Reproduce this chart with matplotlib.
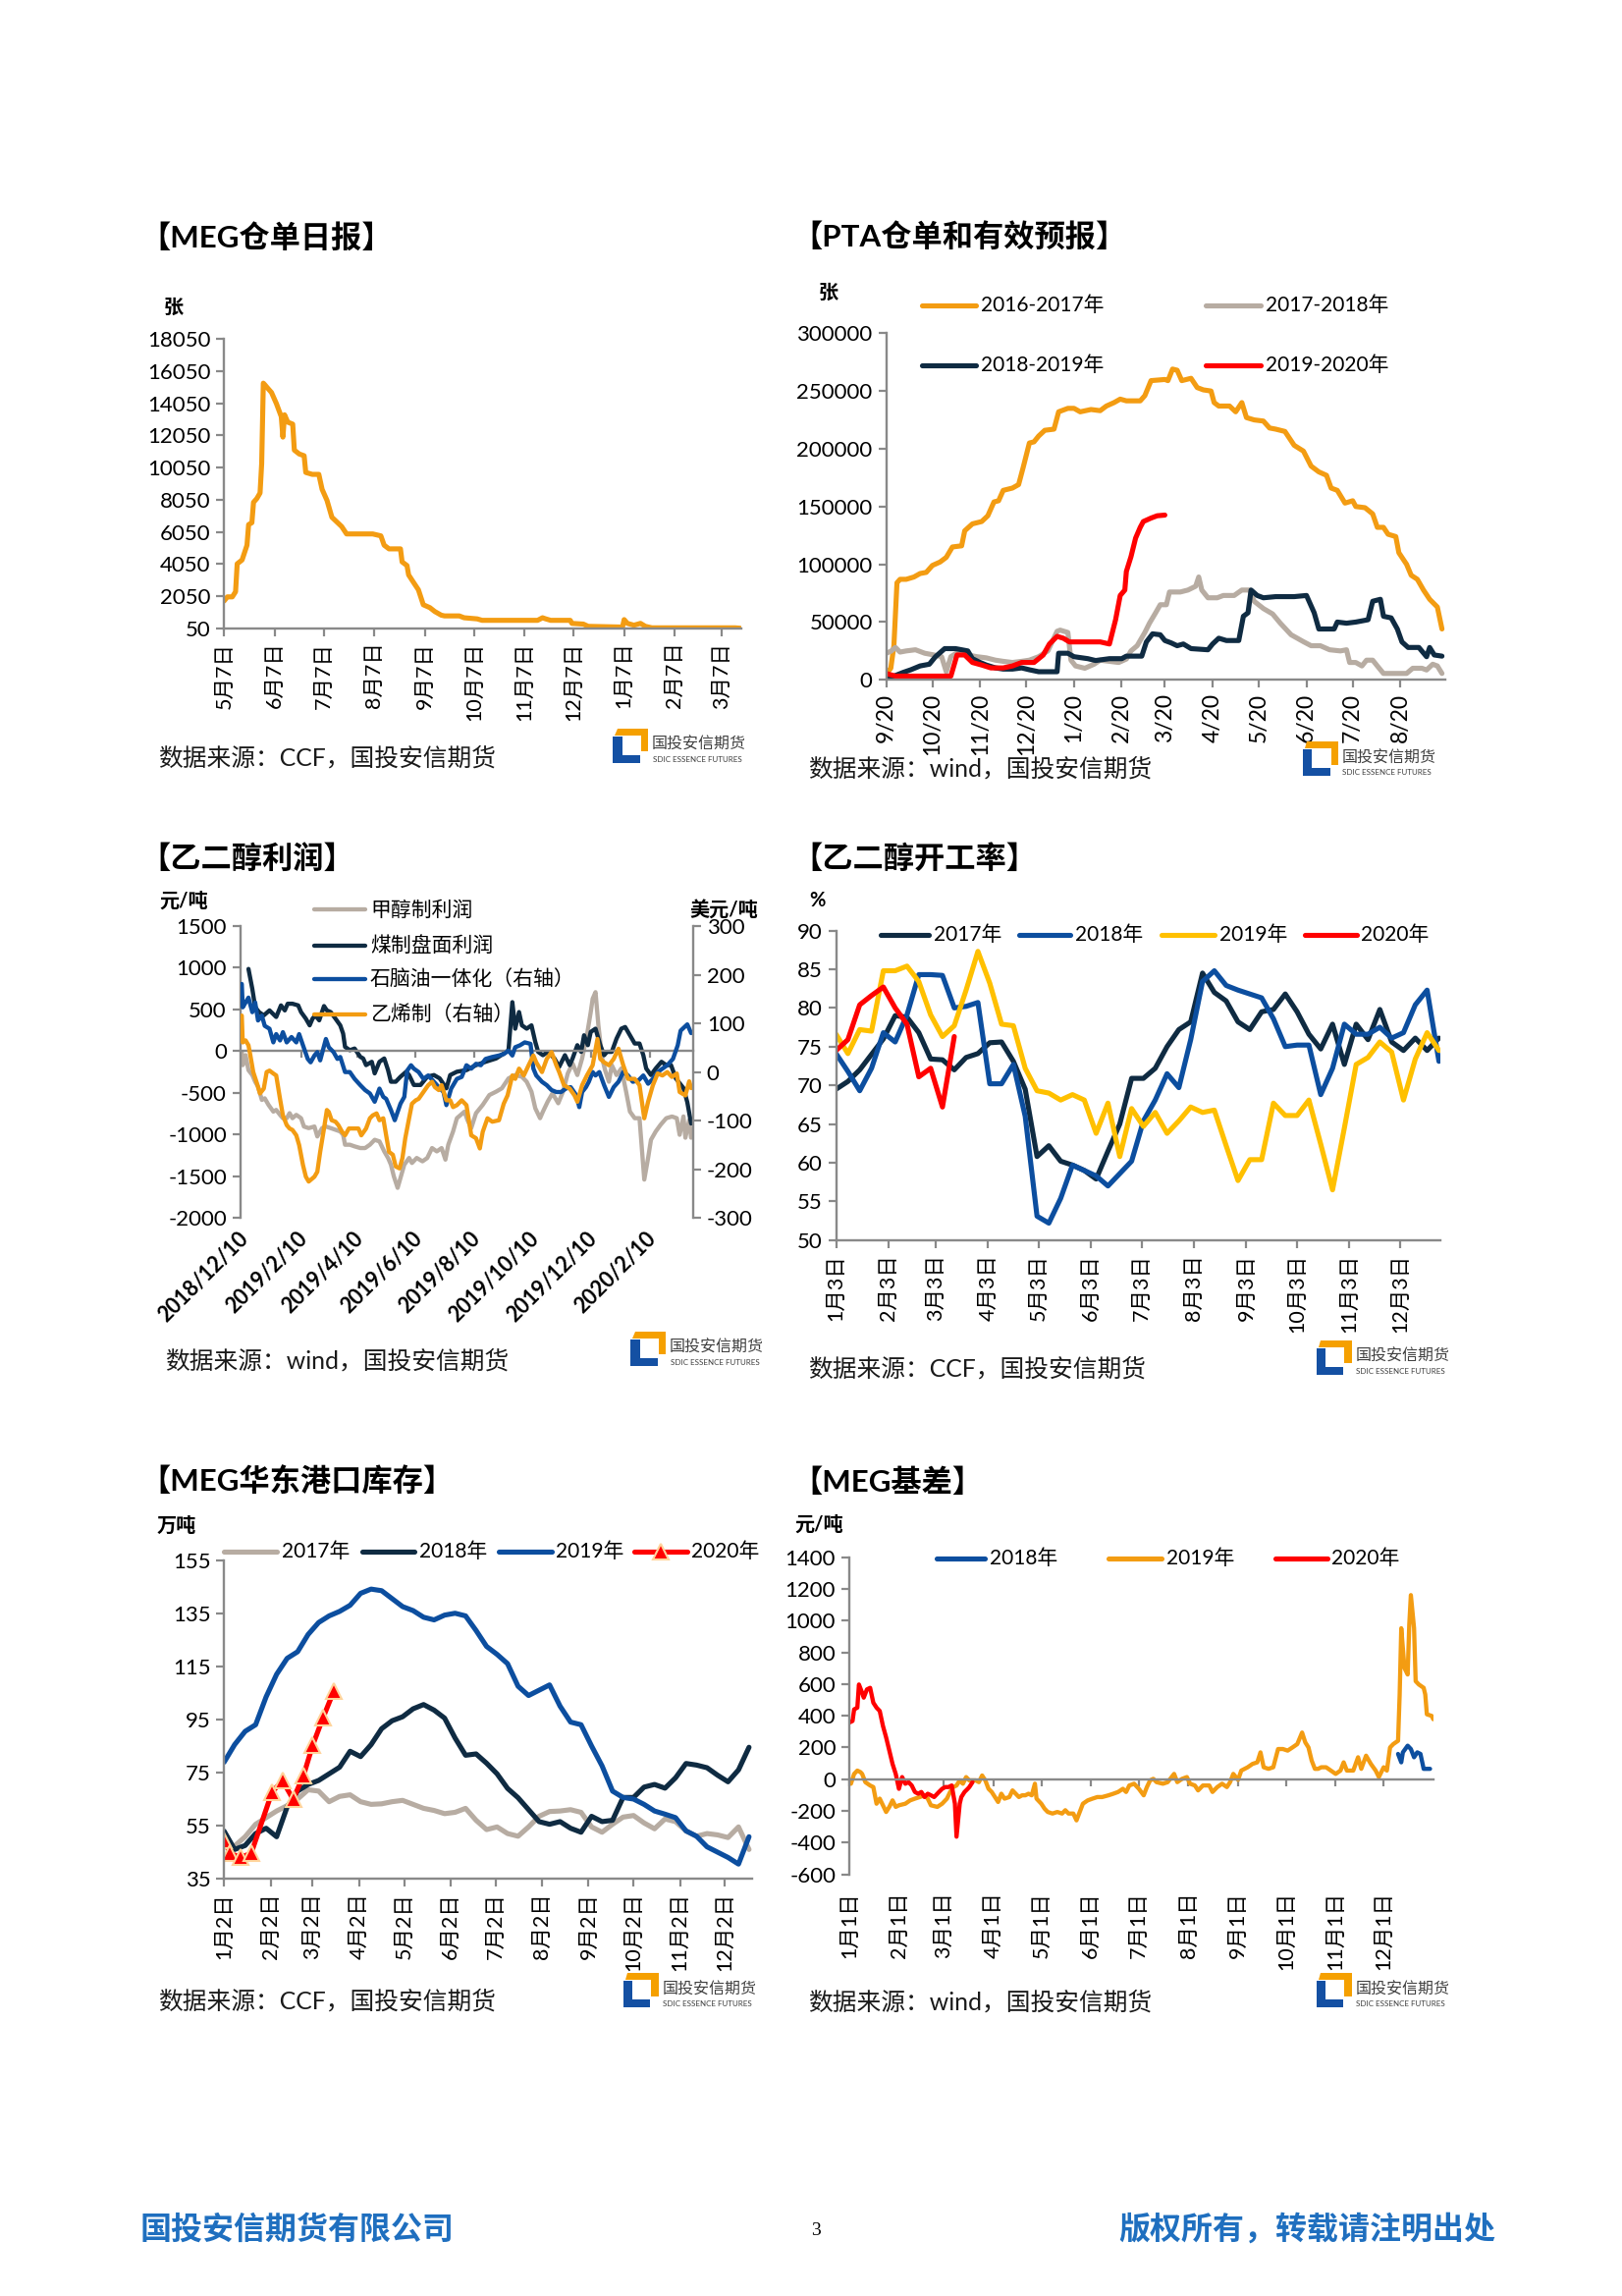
import numpy as np
import pandas as pd
import matplotlib
matplotlib.use('Agg')
import matplotlib.pyplot as plt
from matplotlib.lines import Line2D
from matplotlib.patches import Polygon

plt.rcParams['font.family'] = ['Lato', 'Noto Sans CJK SC', 'DejaVu Sans']
plt.rcParams['axes.unicode_minus'] = False
plt.rcParams['lines.solid_joinstyle'] = 'round'
plt.rcParams['lines.solid_capstyle'] = 'round'

# ---------------- chart 1: MEG仓单日报 ----------------
c1_dates = ['2019-05-07', '2019-05-09', '2019-05-12', '2019-05-14', '2019-05-15', '2019-05-18', '2019-05-21',
            '2019-05-22', '2019-05-24', '2019-05-25', '2019-05-27', '2019-05-29', '2019-05-30', '2019-05-31',
            '2019-06-01', '2019-06-03', '2019-06-05', '2019-06-08', '2019-06-11', '2019-06-12', '2019-06-13',
            '2019-06-15', '2019-06-18', '2019-06-19', '2019-06-22', '2019-06-25', '2019-06-26', '2019-06-30',
            '2019-07-04', '2019-07-06', '2019-07-09', '2019-07-12', '2019-07-18', '2019-07-21', '2019-08-06',
            '2019-08-11', '2019-08-13', '2019-08-16', '2019-08-23', '2019-08-24', '2019-08-27', '2019-08-28',
            '2019-08-31', '2019-09-03', '2019-09-06', '2019-09-10', '2019-09-13', '2019-09-17', '2019-09-19',
            '2019-09-28', '2019-10-01', '2019-10-09', '2019-10-12', '2019-11-15', '2019-11-18', '2019-11-20',
            '2019-11-23', '2019-12-05', '2019-12-06', '2019-12-13', '2019-12-16', '2020-01-06', '2020-01-07',
            '2020-01-09', '2020-01-13', '2020-01-17', '2020-01-20', '2020-01-24', '2020-03-15', '2020-03-18']
c1_vals = [1750, 2000, 2000, 2320, 4060, 4300, 5220, 6500, 6620, 7890, 8120, 8470, 10300, 15310,
           15200, 14960, 14730, 14040, 13225, 11950, 13340, 12880, 12760, 11140, 10900, 10790, 9750, 9630,
           9630, 8700, 8010, 6960, 6380, 5920, 5920, 5800, 5220, 4990, 4990, 4180, 3950, 3370,
           2900, 2440, 1510, 1330, 1090, 860, 815, 815, 700, 630, 540, 540, 700, 630,
           540, 540, 350, 305, 165, 120, 585, 350, 235, 350, 165, 73, 73, 50]
c1_yticks = [50, 2050, 4050, 6050, 8050, 10050, 12050, 14050, 16050, 18050]
c1_xtick_dates = ['2019-05-07', '2019-06-07', '2019-07-07', '2019-08-07', '2019-09-07', '2019-10-07',
                  '2019-11-07', '2019-12-07', '2020-01-07', '2020-02-07', '2020-03-07']
c1_xticklabels = ['5月7日', '6月7日', '7月7日', '8月7日', '9月7日', '10月7日', '11月7日', '12月7日',
                  '1月7日', '2月7日', '3月7日']

# ---------------- chart 2: PTA仓单和有效预报 (days since 9/20) ----------------
c2_start = '2016-09-20'
c2_o_days = [0, 3, 5, 7, 9, 13, 18, 22, 26, 30, 35, 39, 43, 49, 51, 56, 62, 66, 70, 73, 76, 82, 86, 89, 93, 96, 99,
             103, 109, 112, 118, 122, 126, 133, 139, 143, 148, 152, 156, 165, 168, 172, 181, 183, 186, 189, 192,
             198, 202, 206, 211, 213, 216, 223, 227, 231, 234, 239, 245, 249, 253, 259, 265, 271, 276, 281, 286,
             289, 293, 298, 303, 305, 311, 316, 319, 323, 326, 331, 333, 338, 341, 345, 349, 353, 358, 361]
c2_o_vals = [5500, 10000, 29500, 84000, 87000, 87000, 89000, 92000, 93000, 99000, 102000, 106000, 115000, 116000,
             129000, 135000, 137000, 142000, 154000, 155000, 164000, 166000, 169000, 184000, 205000, 206000,
             211000, 216000, 217000, 232000, 235000, 235000, 232000, 234000, 233000, 237000, 240000, 243000,
             241500, 241500, 246000, 259000, 260000, 259000, 269000, 268000, 259000, 261000, 253000, 251000,
             250000, 240000, 237000, 237000, 232000, 240000, 227000, 225000, 224000, 218000, 217000, 215000,
             203000, 198000, 185000, 180000, 177000, 166000, 164000, 153000, 155000, 150000, 149000, 143600,
             132000, 132000, 126000, 124000, 110000, 100000, 90500, 87000, 77700, 69700, 63000, 44000]
c2_g_days = [0, 3, 6, 9, 13, 19, 25, 31, 36, 39, 42, 48, 53, 59, 65, 71, 76, 82, 88, 93, 99, 105, 111, 113, 118,
             120, 123, 129, 135, 139, 145, 151, 156, 159, 163, 168, 171, 175, 178, 182, 184, 191, 196, 201, 203,
             205, 209, 215, 219, 226, 231, 236, 239, 245, 251, 256, 263, 271, 276, 282, 288, 295, 299, 301, 305,
             309, 312, 316, 319, 323, 333, 338, 342, 348, 351, 355, 358, 361]
c2_g_vals = [23000, 24700, 28000, 24000, 25000, 26000, 23000, 21500, 20000, 7000, 20000, 25000, 21500, 20000,
             19000, 17000, 16000, 15000, 16000, 17000, 20000, 25000, 42000, 43000, 41000, 17000, 12000, 10000,
             13500, 17000, 16000, 15000, 18000, 25000, 29500, 41000, 49000, 58000, 65000, 65000, 76000, 76000,
             77700, 81000, 89000, 77700, 71000, 71000, 73000, 73000, 77700, 77700, 68000, 61700, 57000, 49000,
             39000, 33000, 29500, 29500, 26000, 25000, 26000, 15000, 15000, 12000, 17000, 17000, 12000, 5500,
             5500, 5500, 10000, 10000, 8500, 13500, 12000, 5500]
c2_n_days = [0, 5, 11, 16, 22, 28, 32, 38, 45, 49, 53, 56, 61, 65, 71, 76, 82, 88, 93, 99, 111, 112, 118, 122,
             131, 136, 145, 153, 156, 166, 169, 173, 178, 181, 185, 189, 193, 198, 209, 212, 216, 221, 229, 232,
             235, 237, 241, 245, 253, 265, 273, 278, 281, 285, 291, 293, 299, 305, 313, 316, 321, 323, 328, 332,
             335, 339, 346, 351, 353, 356, 361]
c2_n_vals = [2200, 3200, 6400, 8700, 12000, 13500, 20000, 27000, 27000, 26000, 25000, 18300, 15000, 12800,
             10300, 9300, 9300, 10300, 8700, 7000, 7000, 23000, 23000, 20000, 18300, 16700, 18300, 18300, 20500,
             20500, 32800, 39800, 39000, 34000, 32000, 29500, 31000, 27000, 26000, 31000, 36000, 34000, 34000,
             55000, 58000, 77700, 73000, 71000, 72000, 72000, 73000, 58000, 44000, 44000, 44000, 50000, 49000,
             50000, 52000, 68000, 69700, 55000, 53600, 44000, 32800, 28000, 28000, 20000, 28000, 21500, 20500]
c2_r_days = [0, 6, 22, 42, 46, 51, 56, 62, 68, 76, 82, 88, 96, 102, 106, 111, 115, 119, 139, 145, 149, 152, 155,
             156, 159, 162, 165, 167, 172, 176, 181]
c2_r_vals = [5500, 3200, 3200, 3200, 21500, 21500, 15000, 12800, 10300, 10300, 12000, 15000, 15000, 21500,
             31000, 37600, 36000, 32800, 32800, 31000, 52000, 73000, 77700, 93800, 106600, 122700, 132000,
             137000, 140000, 142000, 142600]
c2_series = ['2016-2017年', '2017-2018年', '2018-2019年', '2019-2020年']
c2_yticks = [0, 50000, 100000, 150000, 200000, 250000, 300000]
c2_xtick_dates = ['2016-09-20', '2016-10-20', '2016-11-20', '2016-12-20', '2017-01-20', '2017-02-20',
                  '2017-03-20', '2017-04-20', '2017-05-20', '2017-06-20', '2017-07-20', '2017-08-20']
c2_xticklabels = ['9/20', '10/20', '11/20', '12/20', '1/20', '2/20', '3/20', '4/20', '5/20', '6/20', '7/20', '8/20']

# ---------------- chart 3: 乙二醇利润 (days since 2018/12/10) ----------------
c3_start = '2018-12-10'
c3_meth_days = [0, 1, 4, 7, 11, 14, 17, 21, 24, 28, 33, 36, 40, 43, 47, 50, 53, 57, 62, 65, 70, 76, 79, 84, 88, 93,
                98, 103, 106, 108, 113, 118, 124, 129, 134, 139, 144, 149, 153, 156, 159, 163, 166, 170, 175, 178,
                183, 189, 194, 199, 204, 209, 213, 216, 221, 225, 233, 236, 240, 245, 252, 259, 266, 272, 279, 286,
                293, 298, 303, 307, 312, 315, 320, 325, 331, 336, 341, 346, 351, 356, 361, 365, 367, 370, 373, 377,
                380, 384, 387, 392, 397, 402, 406, 411, 416, 421, 425, 428, 433, 438, 444, 450, 455, 458, 462, 464,
                468, 470]
c3_meth_vals = [-8, -167, -48, -227, -286, -366, -425, -584, -565, -644, -724, -704, -763, -803, -803, -743, -803,
                -763, -803, -903, -922, -903, -1022, -922, -903, -922, -942, -962, -1002, -1121, -1121, -1141,
                -1161, -1161, -1121, -1062, -1081, -1201, -1280, -1360, -1499, -1638, -1519, -1360, -1280, -1340,
                -1280, -1320, -1280, -1161, -1201, -1161, -1300, -1121, -962, -803, -724, -823, -922, -743, -644,
                -525, -485, -445, -326, -286, -306, -366, -485, -684, -803, -724, -604, -505, -624, -485, -266,
                -147, -286, -87, 191, 469, 628, 708, 310, -87, -227, -366, -167, -286, -207, -485, -724, -803,
                -803, -1539, -1280, -1062, -962, -883, -803, -783, -803, -1002, -782, -1037, -825, -1037]
c3_coal_days = [7, 11, 14, 18, 23, 29, 36, 41, 45, 48, 53, 59, 62, 67, 71, 74, 77, 81, 86, 89, 93, 98, 103, 106,
                108, 113, 118, 124, 127, 130, 136, 139, 144, 149, 153, 156, 161, 166, 172, 175, 180, 187, 194, 201,
                207, 214, 218, 225, 235, 245, 255, 266, 274, 279, 283, 286, 290, 293, 298, 303, 307, 310, 315, 320,
                327, 332, 338, 343, 346, 351, 355, 358, 362, 365, 370, 375, 379, 382, 387, 392, 397, 401, 406, 411,
                416, 420, 423, 428, 433, 439, 444, 449, 454, 462, 466, 470]
c3_coal_vals = [986, 748, 529, 469, 429, 489, 410, 549, 489, 569, 569, 549, 469, 390, 310, 390, 429, 370, 541, 489,
                469, 390, 310, 211, 52, 12, 32, -68, -87, -167, -127, -266, -127, -87, -227, -366, -366, -306,
                -246, -286, -405, -405, -306, -286, -326, -445, -286, -246, -227, -167, -127, -87, -28, 12, 588,
                270, 469, 310, 270, 310, 111, -8, -48, -8, -87, -187, -48, -167, -87, 72, -8, 191, 72, 231, 270,
                72, -48, -8, -8, 151, 270, 290, 191, 92, 92, -48, -207, -286, -207, -127, -167, -167, -326, -442,
                -612, -867]
c3_naph_days = [0, 1, 4, 7, 11, 14, 17, 21, 24, 29, 33, 36, 40, 43, 47, 52, 57, 60, 64, 69, 72, 76, 79, 82, 88, 91,
                96, 100, 103, 108, 113, 118, 124, 129, 134, 139, 144, 148, 151, 156, 160, 163, 166, 170, 173, 177,
                180, 185, 190, 195, 201, 206, 211, 214, 219, 225, 230, 235, 240, 245, 250, 255, 262, 269, 274, 279,
                283, 286, 291, 296, 302, 305, 308, 314, 319, 324, 329, 334, 339, 344, 350, 353, 356, 360, 363, 367,
                370, 374, 379, 384, 389, 394, 399, 404, 409, 415, 420, 425, 430, 435, 440, 445, 451, 456, 459, 466,
                470]
c3_naph_vals = [181, 133, 143, 153, 123, 143, 106, 116, 95, 89, 61, 78, 65, 82, 61, 72, 61, 78, 55, 27, 20, 34, 41,
                24, 68, 51, 41, 27, 31, 0, 0, -14, -27, -37, -44, -61, -34, -51, -55, -78, -99, -82, -65, -51, 3,
                14, 7, 0, -14, -7, -20, -31, -41, -68, -34, -14, -10, 14, 7, 17, 14, 27, 31, 34, 37, 44, 34, 51,
                55, 61, 58, 7, -7, -20, -27, -37, -41, -41, -34, -31, -48, -72, -41, -31, -20, 0, -7, 0, -27, -51,
                -31, -20, 0, -7, -20, -17, -7, -24, -14, 0, 7, 14, 27, 55, 85, 98, 80]
c3_eth_days = [0, 1, 4, 7, 9, 12, 16, 19, 23, 26, 29, 33, 36, 40, 43, 47, 50, 53, 57, 60, 64, 67, 70, 76, 79, 82, 86,
               89, 91, 94, 98, 101, 105, 108, 112, 117, 122, 125, 130, 134, 137, 141, 144, 148, 151, 154, 158, 161,
               165, 168, 171, 175, 178, 182, 185, 190, 195, 199, 202, 206, 209, 214, 218, 221, 225, 230, 235, 240,
               245, 249, 252, 257, 262, 269, 274, 278, 283, 286, 290, 295, 300, 305, 308, 314, 319, 324, 329, 332,
               337, 343, 348, 351, 356, 361, 367, 372, 375, 379, 384, 389, 394, 399, 404, 411, 416, 421, 425, 430,
               435, 440, 445, 450, 455, 458, 464, 468, 470]
c3_eth_vals = [116, 61, 65, 55, 34, 0, -24, -44, -34, 0, 3, -3, -7, -55, -89, -109, -116, -119, -130, -150, -191,
               -215, -225, -215, -205, -164, -116, -78, -82, -99, -102, -109, -123, -130, -116, -116, -116, -130,
               -116, -95, -89, -85, -99, -95, -130, -164, -170, -194, -198, -177, -136, -95, -65, -58, -55, -41,
               -27, -20, -31, -37, -27, -58, -58, -72, -68, -58, -68, -130, -136, -157, -123, -95, -102, -99, -65,
               -48, -7, -14, 7, -7, 14, 34, 20, 0, 27, 41, 14, 0, -27, -34, -48, -61, -27, -7, 14, 68, 27, 20, 14,
               27, 48, 14, -14, -14, -27, -95, -61, -27, -3, -7, 0, -10, -3, -41, -48, -19, -33]
c3_series = ['甲醇制利润', '煤制盘面利润', '石脑油一体化（右轴）', '乙烯制（右轴）']
c3_yticks_l = [-2000, -1500, -1000, -500, 0, 500, 1000, 1500]
c3_yticks_r = [-300, -200, -100, 0, 100, 200, 300]
c3_xtick_dates = ['2018-12-10', '2019-02-10', '2019-04-10', '2019-06-10', '2019-08-10', '2019-10-10',
                  '2019-12-10', '2020-02-10']
c3_xticklabels = ['2018/12/10', '2019/2/10', '2019/4/10', '2019/6/10', '2019/8/10', '2019/10/10',
                  '2019/12/10', '2020/2/10']

# ---------------- chart 4: 乙二醇开工率 (weekly from 1/3) ----------------
c4_start = '2019-01-03'
c4_2017 = [69.5, 70.5, 72.0, 74.0, 76.0, 79.0, 78.8, 76.8, 73.4, 73.3, 72.0, 73.6, 74.1, 75.5, 75.6, 73.1, 69.5,
           60.8, 62.2, 60.2, 59.7, 59.0, 57.9, 61.5, 65.0, 70.9, 70.9, 72.2, 75.0, 77.2, 78.2, 84.5, 82.0, 80.9,
           78.2, 77.2, 79.5, 79.8, 81.8, 79.5, 76.6, 74.7, 77.9, 72.7, 77.9, 75.9, 79.8, 75.6, 74.5, 76.1, 74.5, 76.1]
c4_2018 = [74.1, 71.8, 69.3, 72.2, 76.8, 75.6, 79.1, 84.3, 84.3, 84.2, 80.0, 80.2, 80.7, 70.2, 70.2, 72.7, 66.0,
           53.1, 52.2, 55.4, 59.7, 59.0, 58.3, 57.0, 58.6, 60.2, 65.4, 68.1, 71.5, 69.7, 75.9, 83.4, 84.8, 82.9,
           82.3, 81.8, 81.3, 78.6, 75.0, 75.2, 75.2, 68.8, 72.2, 77.9, 76.6, 76.6, 77.5, 76.1, 76.8, 80.4, 82.3, 73.1]
c4_2019 = [76.6, 74.1, 77.2, 77.0, 84.8, 84.8, 85.4, 83.4, 79.1, 76.3, 77.7, 82.3, 87.3, 83.2, 77.9, 77.7, 72.2,
           69.3, 69.0, 68.1, 68.8, 68.1, 63.8, 67.7, 60.8, 67.0, 64.7, 66.5, 63.8, 65.4, 67.2, 66.5, 66.8, 62.2,
           57.7, 60.4, 60.4, 67.7, 66.1, 66.1, 68.1, 62.4, 56.5, 64.5, 72.7, 73.6, 75.6, 74.3, 68.1, 73.4, 76.8, 74.5]
c4_2020 = [74.5, 75.9, 80.4, 81.6, 82.7, 80.0, 77.9, 71.1, 72.2, 67.2, 76.3]
c4_series = ['2017年', '2018年', '2019年', '2020年']
c4_yticks = [50, 55, 60, 65, 70, 75, 80, 85, 90]
c4_xtick_dates = ['2019-%02d-03' % m for m in range(1, 13)]
c4_xticklabels = ['1月3日', '2月3日', '3月3日', '4月3日', '5月3日', '6月3日', '7月3日', '8月3日', '9月3日',
                  '10月3日', '11月3日', '12月3日']

# ---------------- chart 5: MEG华东港口库存 (weekly from 1/2) ----------------
c5_start = '2019-01-02'
c5_2017 = [47.3, 47.3, 50.8, 55.5, 58.0, 60.5, 62.5, 65.0, 68.5, 68.0, 64.0, 66.0, 66.6, 64.0, 63.0, 63.2, 64.0,
           64.5, 63.0, 61.5, 60.7, 59.5, 60.0, 61.5, 57.0, 53.5, 54.5, 52.0, 51.0, 54.5, 58.5, 60.3, 60.5, 61.0,
           60.0, 54.5, 52.5, 55.5, 58.2, 58.8, 56.0, 53.8, 57.5, 56.5, 53.0, 51.0, 52.0, 51.5, 50.5, 54.5, 46.0]
c5_2018 = [52.9, 46.0, 47.5, 52.0, 54.0, 50.8, 62.0, 68.0, 70.5, 72.0, 74.5, 77.0, 83.0, 81.0, 85.5, 91.5, 94.5,
           96.0, 99.0, 100.6, 98.5, 95.5, 88.0, 81.5, 82.0, 78.5, 74.5, 69.0, 65.5, 61.0, 56.5, 55.5, 56.5, 54.0,
           52.5, 58.5, 56.5, 57.0, 65.6, 65.6, 69.5, 70.5, 69.1, 73.0, 78.4, 77.8, 76.8, 74.0, 71.5, 76.0, 84.5]
c5_2019 = [78.9, 85.5, 90.5, 93.0, 103.5, 112.0, 118.0, 120.5, 127.0, 131.5, 134.0, 135.7, 138.0, 142.5, 144.1,
           143.5, 140.5, 137.5, 136.0, 133.5, 132.5, 134.3, 135.0, 134.0, 128.5, 122.5, 119.5, 116.0, 107.5,
           104.0, 106.0, 108.0, 100.0, 94.0, 93.0, 85.0, 77.5, 68.0, 65.6, 65.0, 63.0, 60.5, 59.3, 58.0, 53.0,
           51.0, 47.0, 45.0, 43.0, 40.5, 50.8]
c5_2020_dates = ['01-02', '01-06', '01-13', '01-20', '02-03', '02-10', '02-17', '02-24', '03-02', '03-09', '03-16']
c5_2020 = [49.4, 44.5, 43.1, 44.5, 67.7, 71.9, 64.9, 74.0, 85.2, 95.7, 105.5]
c5_series = ['2017年', '2018年', '2019年', '2020年']
c5_yticks = [35, 55, 75, 95, 115, 135, 155]
c5_xtick_dates = ['2019-%02d-02' % m for m in range(1, 13)]
c5_xticklabels = ['1月2日', '2月2日', '3月2日', '4月2日', '5月2日', '6月2日', '7月2日', '8月2日', '9月2日',
                  '10月2日', '11月2日', '12月2日']

# ---------------- chart 6: MEG基差 (days since 1/1) ----------------
c6_start = '2019-01-01'
c6_2019_days = [0, 1, 3, 5, 7, 8, 10, 13, 15, 17, 19, 21, 23, 25, 27, 29, 31, 35, 38, 41, 44, 47, 49, 51, 55, 58,
                61, 63, 65, 67, 69, 71, 73, 75, 79, 81, 83, 85, 87, 89, 91, 93, 95, 97, 100, 102, 104, 106, 108,
                110, 112, 114, 116, 117, 120, 122, 124, 127, 130, 133, 135, 137, 140, 142, 144, 146, 149, 152, 155,
                158, 162, 165, 168, 171, 173, 175, 178, 181, 184, 186, 188, 190, 192, 196, 199, 203, 205, 208, 211,
                213, 216, 218, 221, 225, 227, 230, 233, 236, 238, 240, 243, 245, 249, 252, 255, 257, 259, 262, 265,
                268, 271, 274, 277, 280, 283, 285, 287, 289, 291, 293, 295, 298, 301, 304, 307, 309, 311, 315, 318,
                320, 323, 326, 329, 331, 334, 336, 338, 340, 343, 344, 345, 347, 349, 350, 351, 353, 354, 356, 359,
                360, 361, 364, 365]
c6_2019_vals = [-8, -29, 33, 54, 44, 33, -19, -40, -50, -155, -123, -165, -207, -175, -134, -175, -165, -155, -134,
                -123, -113, -102, -123, -165, -175, -155, -123, -81, -50, -40, -8, -29, 13, -8, -8, -19, 23, -8,
                -61, -81, -113, -144, -92, -123, -113, -71, -92, -113, -102, -102, -92, -102, -29, -123, -155, -186,
                -207, -217, -207, -217, -196, -217, -217, -260, -207, -155, -134, -123, -113, -113, -102, -92, -81,
                -61, -81, -40, -29, -61, -102, -50, -8, 2, -19, -29, -19, 33, -19, 2, 13, -29, -40, -71, -40, -40,
                -81, -50, -29, -50, -19, 33, -4, 54, 75, 96, 106, 169, 75, 65, 75, 190, 190, 180, 200, 221, 294,
                232, 200, 117, 65, 65, 75, 75, 54, 33, 54, 106, 54, 54, 138, 65, 148, 96, 54, 13, 75, 54, 200, 221,
                242, 534, 952, 701, 660, 973, 1161, 952, 618, 597, 576, 534, 409, 399, 378]
c6_2018_days = [343, 345, 346, 349, 351, 353, 355, 357, 359, 361, 363]
c6_2018_vals = [159, 106, 169, 211, 190, 138, 169, 159, 65, 65, 65]
c6_2020_days = [0, 2, 3, 5, 6, 8, 9, 11, 13, 15, 17, 19, 21, 23, 25, 27, 29, 31, 33, 35, 37, 39, 41, 43, 45, 47, 49,
                51, 53, 56, 58, 60, 62, 64, 66, 67, 69, 70, 72, 74, 75, 77]
c6_2020_vals = [357, 367, 440, 451, 597, 545, 514, 566, 576, 482, 451, 430, 336, 263, 180, 96, 33, -61, 13, -29,
                -19, -40, -81, -92, -81, -113, -92, -102, -113, -81, -61, -50, -50, -40, -155, -363, -155, -113,
                -81, -61, -50, -19]
c6_series = ['2018年', '2019年', '2020年']
c6_yticks = [-600, -400, -200, 0, 200, 400, 600, 800, 1000, 1200, 1400]
c6_xtick_dates = ['2019-%02d-01' % m for m in range(1, 13)]
c6_xticklabels = ['1月1日', '2月1日', '3月1日', '4月1日', '5月1日', '6月1日', '7月1日', '8月1日', '9月1日',
                  '10月1日', '11月1日', '12月1日']

# ---------------- colours / sizes ----------------
ORANGE = '#F39C12'
GRAY = '#B7ACA2'
NAVY = '#0F2B42'
BLUE = '#0C4E9F'
RED = '#FF0000'
YELLOW = '#FFC000'
AXC = '#898989'
FOOT = '#1F6FBF'
LW = 3.7
LW_THIN = 3.1
YFS = 16
XFS = 15.5

# ---------------- figure helpers ----------------
W, H = 1100.0, 1557.0
fig = plt.figure(figsize=(16.52, 23.38), dpi=100)
fig.patch.set_facecolor('white')


def add_ax(l, t, r, b):
    return fig.add_axes([l / W, 1 - b / H, (r - l) / W, (b - t) / H])


def style(ax):
    for s in ('top', 'right'):
        ax.spines[s].set_visible(False)
    for s in ('left', 'bottom'):
        ax.spines[s].set_color(AXC)
        ax.spines[s].set_linewidth(1.7)
    ax.tick_params(axis='both', which='major', color=AXC, width=1.6, length=6,
                   direction='out', labelcolor='black', labelsize=YFS, pad=4)
    ax.tick_params(axis='x', labelsize=XFS)
    ax.set_facecolor('none')


def days_to_dates(start, days):
    return pd.Timestamp(start) + pd.to_timedelta(days, unit='D')


def set_yt(ax, ticks):
    ax.set_yticks(ticks)
    ax.set_yticklabels([str(v) for v in ticks])


# ---------------- chart 1 ----------------
ax1 = add_ax(152, 230, 503, 426)
style(ax1)
ax1.plot(pd.to_datetime(c1_dates), c1_vals, color=ORANGE, lw=LW)
ax1.set_ylim(50, 18050)
set_yt(ax1, c1_yticks)
ax1.set_xlim(pd.Timestamp('2019-05-07'), pd.Timestamp('2020-03-19'))
ax1.set_xticks(pd.to_datetime(c1_xtick_dates))
ax1.set_xticklabels(c1_xticklabels, rotation=90)

# ---------------- chart 2 ----------------
ax2 = add_ax(601, 226, 980, 461)
style(ax2)
ax2.plot(days_to_dates(c2_start, c2_o_days), c2_o_vals, color=ORANGE, lw=LW)
ax2.plot(days_to_dates(c2_start, c2_g_days), c2_g_vals, color=GRAY, lw=LW)
ax2.plot(days_to_dates(c2_start, c2_n_days), c2_n_vals, color=NAVY, lw=LW)
ax2.plot(days_to_dates(c2_start, c2_r_days), c2_r_vals, color=RED, lw=LW)
ax2.set_ylim(0, 300000)
set_yt(ax2, c2_yticks)
ax2.set_xlim(pd.Timestamp(c2_start), pd.Timestamp(c2_start) + pd.Timedelta(days=363))
ax2.set_xticks(pd.to_datetime(c2_xtick_dates))
ax2.set_xticklabels(c2_xticklabels, rotation=90)
ax2.tick_params(axis='x', labelsize=16.5)

# ---------------- chart 3 ----------------
ax3 = add_ax(163, 628, 470, 826)
style(ax3)
ax3.spines['bottom'].set_position(('data', 0))
ax3.plot(days_to_dates(c3_start, c3_meth_days), c3_meth_vals, color=GRAY, lw=LW_THIN)
ax3.plot(days_to_dates(c3_start, c3_coal_days), c3_coal_vals, color=NAVY, lw=LW_THIN)
ax3.set_ylim(-2000, 1500)
set_yt(ax3, c3_yticks_l)
ax3.set_xlim(pd.Timestamp(c3_start) - pd.Timedelta(days=1.5), pd.Timestamp(c3_start) + pd.Timedelta(days=472))
ax3.set_xticks(pd.to_datetime(c3_xtick_dates))
ax3.tick_params(axis='x', labelbottom=False, length=5)
for d, lab in zip(c3_xtick_dates, c3_xticklabels):
    ax3.text(pd.Timestamp(d) + pd.Timedelta(days=3), -0.06, lab, transform=ax3.get_xaxis_transform(),
             rotation=45, ha='right', va='center', rotation_mode='anchor', fontsize=15.5, fontweight='bold')
ax3r = ax3.twinx()
for s in ('top', 'left', 'bottom'):
    ax3r.spines[s].set_visible(False)
ax3r.spines['right'].set_color(AXC)
ax3r.spines['right'].set_linewidth(1.7)
ax3r.tick_params(axis='y', color=AXC, width=1.6, length=6, direction='out', labelcolor='black',
                 labelsize=YFS, pad=4)
ax3r.plot(days_to_dates(c3_start, c3_naph_days), c3_naph_vals, color=BLUE, lw=LW_THIN)
ax3r.plot(days_to_dates(c3_start, c3_eth_days), c3_eth_vals, color=ORANGE, lw=LW_THIN)
ax3r.set_ylim(-300, 300)
set_yt(ax3r, c3_yticks_r)

# ---------------- chart 4 ----------------
ax4 = add_ax(567, 631, 977, 841)
style(ax4)
for vals, col in ((c4_2017, NAVY), (c4_2018, BLUE), (c4_2019, YELLOW), (c4_2020, RED)):
    x = pd.date_range(c4_start, periods=len(vals), freq='7D')
    ax4.plot(x, vals, color=col, lw=LW)
ax4.set_ylim(50, 90)
set_yt(ax4, c4_yticks)
ax4.set_xlim(pd.Timestamp(c4_start), pd.Timestamp('2019-12-27'))
ax4.set_xticks(pd.to_datetime(c4_xtick_dates))
ax4.set_xticklabels(c4_xticklabels, rotation=90)

# ---------------- chart 5 ----------------
ax5 = add_ax(152, 1058, 510, 1274)
style(ax5)
for vals, col in ((c5_2017, GRAY), (c5_2018, NAVY), (c5_2019, BLUE)):
    x = pd.date_range(c5_start, periods=len(vals), freq='7D')
    ax5.plot(x, vals, color=col, lw=LW)
ax5.plot(pd.to_datetime(['2019-' + d for d in c5_2020_dates]), c5_2020, color=RED, lw=LW,
         marker='^', ms=11, mfc=RED, mec='#FFD49C', mew=1.5)
ax5.set_ylim(35, 155)
set_yt(ax5, c5_yticks)
ax5.set_xlim(pd.Timestamp(c5_start), pd.Timestamp('2019-12-20'))
ax5.set_xticks(pd.to_datetime(c5_xtick_dates))
ax5.set_xticklabels(c5_xticklabels, rotation=90)

# ---------------- chart 6 ----------------
ax6 = add_ax(576, 1056, 972, 1271)
style(ax6)
ax6.spines['bottom'].set_position(('data', 0))
ax6.plot(days_to_dates(c6_start, c6_2018_days), c6_2018_vals, color=BLUE, lw=LW_THIN)
ax6.plot(days_to_dates(c6_start, c6_2019_days), c6_2019_vals, color=ORANGE, lw=LW_THIN)
ax6.plot(days_to_dates(c6_start, c6_2020_days), c6_2020_vals, color=RED, lw=LW_THIN)
ax6.set_ylim(-600, 1400)
set_yt(ax6, c6_yticks)
ax6.set_xlim(pd.Timestamp(c6_start), pd.Timestamp(c6_start) + pd.Timedelta(days=365))
ax6.set_xticks(pd.to_datetime(c6_xtick_dates))
ax6.tick_params(axis='x', labelbottom=False, length=5)
for d, lab in zip(c6_xtick_dates, c6_xticklabels):
    ax6.text(pd.Timestamp(d), -0.055, lab, transform=ax6.get_xaxis_transform(),
             rotation=90, ha='center', va='top', fontsize=XFS)

# ---------------- overlay: titles, legends, notes, logos ----------------
ov = fig.add_axes([0, 0, 1, 1], zorder=50)
ov.set_xlim(0, W)
ov.set_ylim(H, 0)
ov.axis('off')


def title(x, y, s):
    ov.text(x, y, s, fontsize=22.5, fontweight='bold', va='center', ha='left')


def unit(x, y, s):
    ov.text(x, y, s, fontsize=14.5, fontweight='bold', va='center', ha='left')


def source(x, y, s):
    ov.text(x, y, s, fontsize=17.8, va='center', ha='left', color='#1a1a1a')


def leg(x0, x1, y, color, label, lw=LW, marker=False):
    ov.add_line(Line2D([x0, x1], [y, y], color=color, lw=lw, solid_capstyle='round'))
    if marker:
        ov.plot([(x0 + x1) / 2], [y], marker='^', ms=11, mfc=RED, mec='#FFD49C', mew=1.5)
    ov.text(x1 + 3, y, label, fontsize=15, va='center', ha='left')


def logo(x0, y0):
    ov.add_patch(Polygon([(x0 + 5.5, y0 + 1.1), (x0 + 26.6, y0 + 1.1), (x0 + 26.6, y0 + 16.6),
                          (x0 + 21.7, y0 + 16.6), (x0 + 21.7, y0 + 5.5), (x0 + 4.0, y0 + 5.5)],
                         closed=True, facecolor='#F5A000', edgecolor='none'))
    ov.add_patch(Polygon([(x0 + 2.7, y0 + 6.2), (x0 + 8.9, y0 + 6.2), (x0 + 8.9, y0 + 18.9),
                          (x0 + 21.1, y0 + 18.9), (x0 + 21.1, y0 + 24.4), (x0 + 2.7, y0 + 24.4)],
                         closed=True, facecolor='#1450A3', edgecolor='none'))
    ov.text(x0 + 29, y0 + 12.0, '国投安信期货', fontsize=11.5, color='#404040', va='center', ha='left')
    ov.text(x0 + 29.5, y0 + 22.0, 'SDIC ESSENCE FUTURES', fontsize=5.8, color='#404040', va='center', ha='left')


title(95, 161, '【MEG仓单日报】')
title(537, 161, '【PTA仓单和有效预报】')
title(95, 582, '【乙二醇利润】')
title(537, 582, '【乙二醇开工率】')
title(95, 1005, '【MEG华东港口库存】')
title(537, 1005, '【MEG基差】')

unit(111, 208, '张')
unit(555, 198, '张')
unit(108, 611, '元/吨')
unit(468, 617, '美元/吨')
unit(549, 611, '%')
unit(106, 1035, '万吨')
unit(539, 1034, '元/吨')

# chart 2 legend
leg(625, 662, 207, ORANGE, c2_series[0])
leg(818, 855, 207, GRAY, c2_series[1])
leg(625, 662, 248, NAVY, c2_series[2])
leg(818, 855, 248, RED, c2_series[3])
# chart 3 legend
leg(213, 248, 617, GRAY, c3_series[0], lw=LW_THIN)
leg(213, 248, 641, NAVY, c3_series[1], lw=LW_THIN)
leg(213, 248, 664, BLUE, c3_series[2], lw=LW_THIN)
leg(213, 248, 688, ORANGE, c3_series[3], lw=LW_THIN)
# chart 4 legend
leg(597, 630, 634, NAVY, c4_series[0])
leg(691, 726, 634, BLUE, c4_series[1])
leg(788, 824, 634, YELLOW, c4_series[2])
leg(885, 920, 634, RED, c4_series[3])
# chart 5 legend
leg(152, 188, 1052, GRAY, c5_series[0])
leg(246, 281, 1052, NAVY, c5_series[1])
leg(338, 374, 1052, BLUE, c5_series[2])
leg(430, 466, 1052, RED, c5_series[3], marker=True)
# chart 6 legend
leg(635, 668, 1057, BLUE, c6_series[0])
leg(752, 788, 1057, ORANGE, c6_series[1])
leg(865, 900, 1057, RED, c6_series[2])

source(107, 514, '数据来源：CCF，国投安信期货')
source(548, 521, '数据来源：wind，国投安信期货')
source(112, 923, '数据来源：wind，国投安信期货')
source(548, 928, '数据来源：CCF，国投安信期货')
source(107, 1357, '数据来源：CCF，国投安信期货')
source(548, 1358, '数据来源：wind，国投安信期货')

logo(413, 493)
logo(881, 502)
logo(425, 902)
logo(890, 908)
logo(420, 1337)
logo(890, 1337)

ov.text(95, 1511, '国投安信期货有限公司', fontsize=23, fontweight='bold', color=FOOT, va='center', ha='left')
ov.text(1014, 1511, '版权所有，转载请注明出处', fontsize=23, fontweight='bold', color=FOOT, va='center', ha='right')
ov.text(553, 1513, '3', fontsize=14, va='center', ha='center', family=['Liberation Serif', 'DejaVu Serif'])

fig.savefig('out.png', dpi=100)
